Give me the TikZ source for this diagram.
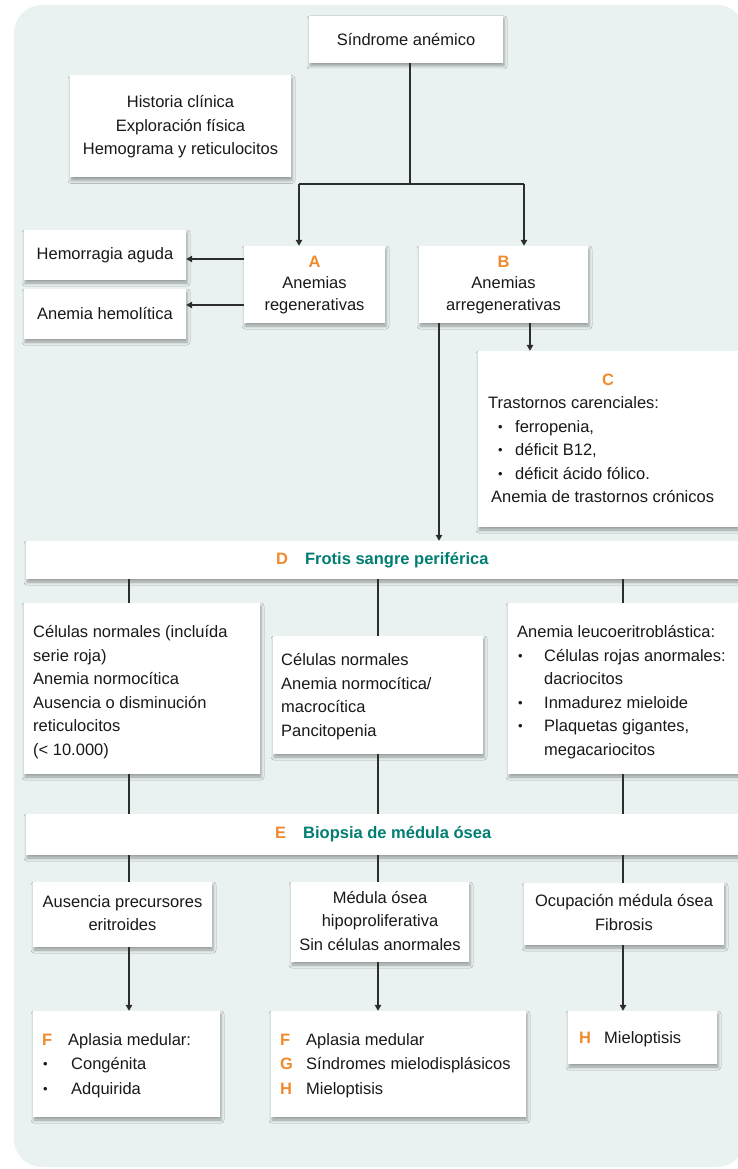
\documentclass[tikz,border=0pt]{standalone}
\usepackage{fontspec}
\setmainfont{Liberation Sans}
\usetikzlibrary{shadows,shadows.blur,arrows.meta}
\definecolor{bgC}{RGB}{234,242,241}
\definecolor{lineC}{RGB}{45,45,45}
\definecolor{textC}{RGB}{25,25,25}
\definecolor{orangeL}{RGB}{240,138,45}
\definecolor{tealL}{RGB}{0,126,114}
\newcommand\myfs{\fontsize{16.5}{23.5}\selectfont}
\newcommand\myfsA{\fontsize{16.5}{21.5}\selectfont}
\newcommand\myfsF{\fontsize{16.5}{24.5}\selectfont}
\newcommand\sbul{{\fontsize{13}{13}\selectfont\raisebox{1pt}{•}}}
\newcommand\ol[1]{\textcolor{orangeL}{\bfseries #1}}
\begin{document}
\begin{tikzpicture}[x=1pt,y=-1pt,
  box/.style={fill=white, inner sep=0pt, font=\myfs, text=textC, align=center,
    blur shadow={shadow xshift=1pt,shadow yshift=-3pt,shadow blur radius=3pt,shadow opacity=35}},
  txt/.style={inner sep=0pt, font=\myfs, text=textC, anchor=north west},
  conn/.style={line width=1.3pt, draw=lineC},
  arr/.style={conn, -{Triangle[length=6pt,width=6.5pt]}}]
\useasboundingbox (0,0) rectangle (737,1169);
\fill[bgC, rounded corners=28pt] (14,5) rectangle (745,1167);

% top part
\node[box, minimum width=194pt, minimum height=47pt] (S) at (406,39.5) {Síndrome anémico};
\node[box, minimum width=221pt, minimum height=102pt] (Hist) at (180.5,126.5)
  {\begin{tabular}{@{}c@{}}Historia clínica\\ Exploración física\\ Hemograma y reticulocitos\end{tabular}};
\node[box, minimum width=162pt, minimum height=50pt] (Hem) at (105,255) {Hemorragia aguda};
\node[box, minimum width=162pt, minimum height=50pt] (Hemol) at (105,314) {Anemia hemolítica};
\node[box, font=\myfsA, minimum width=141pt, minimum height=77pt] (A) at (314.5,284.5)
  {\begin{tabular}{@{}c@{}}\ol{A}\\ Anemias\\ regenerativas\end{tabular}};
\node[box, font=\myfsA, minimum width=169pt, minimum height=77pt] (B) at (503.5,284.5)
  {\begin{tabular}{@{}c@{}}\ol{B}\\ Anemias\\ arregenerativas\end{tabular}};

% C box
\node[box, minimum width=282pt, minimum height=176pt] (C) at (619,439) {};
\node[inner sep=0pt, font=\myfs] (Clbl) at (608,380) {\ol{C}};
\node[txt] (Ctxt) at (488,392)
  {\begin{tabular}{@{}p{27pt}@{}l@{}}
  \multicolumn{2}{@{}l@{}}{Trastornos carenciales:}\\
  \hspace{10pt}\sbul & ferropenia,\\
  \hspace{10pt}\sbul & déficit B12,\\
  \hspace{10pt}\sbul & déficit ácido fólico.\\
  \multicolumn{2}{@{}l@{}}{\hspace{3pt}Anemia de trastornos crónicos}
  \end{tabular}};

% D bar
\node[box, minimum width=734pt, minimum height=38pt] (D) at (393,560) {};
\node[inner sep=0pt, font=\myfs\bfseries, anchor=west] (Dtxt) at (276,560)
  {\textcolor{orangeL}{D}\hspace{17pt}\textcolor{tealL}{Frotis sangre periférica}};

% middle boxes
\node[box, minimum width=236pt, minimum height=171pt] (L) at (142,688.5) {};
\node[txt] (Ltxt) at (33,621)
  {\begin{tabular}{@{}l@{}}Células normales (incluída\\ serie roja)\\ Anemia normocítica\\ Ausencia o disminución\\ reticulocitos\\ (< 10.000)\end{tabular}};
\node[box, minimum width=210pt, minimum height=118pt] (M) at (378,695) {};
\node[txt] (Mtxt) at (281,649)
  {\begin{tabular}{@{}l@{}}Células normales\\ Anemia normocítica/\\ macrocítica\\ Pancitopenia\end{tabular}};
\node[box, minimum width=252pt, minimum height=171pt] (R) at (634,688.5) {};
\node[txt] (Rtxt) at (517,621)
  {\begin{tabular}{@{}p{27pt}@{}l@{}}
  \multicolumn{2}{@{}l@{}}{Anemia leucoeritroblástica:}\\
  \hspace{1pt}\sbul & Células rojas anormales:\\
   & dacriocitos\\
  \hspace{1pt}\sbul & Inmadurez mieloide\\
  \hspace{1pt}\sbul & Plaquetas gigantes,\\
   & megacariocitos
  \end{tabular}};

% E bar
\node[box, minimum width=734pt, minimum height=41pt] (E) at (393,834.5) {};
\node[inner sep=0pt, font=\myfs\bfseries, anchor=west] (Etxt) at (275,834.5)
  {\textcolor{orangeL}{E}\hspace{17pt}\textcolor{tealL}{Biopsia de médula ósea}};

% lower boxes
\node[box, minimum width=179pt, minimum height=65pt] (P1) at (122.5,914.5)
  {\begin{tabular}{@{}c@{}}Ausencia precursores\\ eritroides\end{tabular}};
\node[box, minimum width=178pt, minimum height=80pt] (P2) at (380,922)
  {\begin{tabular}{@{}c@{}}Médula ósea\\ hipoproliferativa\\ Sin células anormales\end{tabular}};
\node[box, minimum width=200pt, minimum height=62pt] (P3) at (624,914)
  {\begin{tabular}{@{}c@{}}Ocupación médula ósea\\ Fibrosis\end{tabular}};

% final boxes
\node[box, minimum width=187pt, minimum height=106pt] (Q1) at (126.5,1064) {};
\node[txt, font=\myfsF] (Q1txt) at (42,1028)
  {\begin{tabular}{@{}p{26pt}@{}l@{}}
  \ol{F} & Aplasia medular:\\
  \hspace{1pt}\sbul & \hspace{3pt}Congénita\\
  \hspace{1pt}\sbul & \hspace{3pt}Adquirida
  \end{tabular}};
\node[box, minimum width=255pt, minimum height=106pt] (Q2) at (398.5,1064) {};
\node[txt, font=\myfsF] (Q2txt) at (280,1028)
  {\begin{tabular}{@{}p{26pt}@{}l@{}}
  \ol{F} & Aplasia medular\\
  \ol{G} & Síndromes mielodisplásicos\\
  \ol{H} & Mieloptisis
  \end{tabular}};
\node[box, minimum width=149pt, minimum height=53pt] (Q3) at (642.5,1037.5) {};
\node[txt] (Q3txt) at (579,1027)
  {\begin{tabular}{@{}p{25pt}@{}l@{}}\ol{H} & Mieloptisis\end{tabular}};

% connectors
\coordinate (j) at (410,184);
\coordinate (jA) at (299,184);
\coordinate (jB) at (524,184);
\draw[conn] (S.south -| j) -- (j);
\draw[conn] (jA) -- (jB);
\draw[arr] (jA) -- (jA |- A.north);
\draw[arr] (jB) -- (jB |- B.north);
\coordinate (h1) at (244,259);
\coordinate (h2) at (244,305);
\draw[arr] (h1) -- (h1 -| Hem.east);
\draw[arr] (h2) -- (h2 -| Hemol.east);
\coordinate (bd) at (439,0);
\coordinate (bc) at (530,0);
\draw[arr] (B.south -| bd) -- (D.north -| bd);
\draw[arr] (B.south -| bc) -- (C.north -| bc);
\coordinate (c1) at (129,0);
\coordinate (c2) at (378,0);
\coordinate (c3) at (623,0);
\draw[conn] (D.south -| c1) -- (L.north -| c1);
\draw[conn] (D.south -| c2) -- (M.north -| c2);
\draw[conn] (D.south -| c3) -- (R.north -| c3);
\draw[conn] (L.south -| c1) -- (E.north -| c1);
\draw[conn] (M.south -| c2) -- (E.north -| c2);
\draw[conn] (R.south -| c3) -- (E.north -| c3);
\draw[conn] (E.south -| c1) -- (P1.north -| c1);
\draw[conn] (E.south -| c2) -- (P2.north -| c2);
\draw[conn] (E.south -| c3) -- (P3.north -| c3);
\draw[arr] (P1.south -| c1) -- (Q1.north -| c1);
\draw[arr] (P2.south -| c2) -- (Q2.north -| c2);
\draw[arr] (P3.south -| c3) -- (Q3.north -| c3);
\end{tikzpicture}
\end{document}
